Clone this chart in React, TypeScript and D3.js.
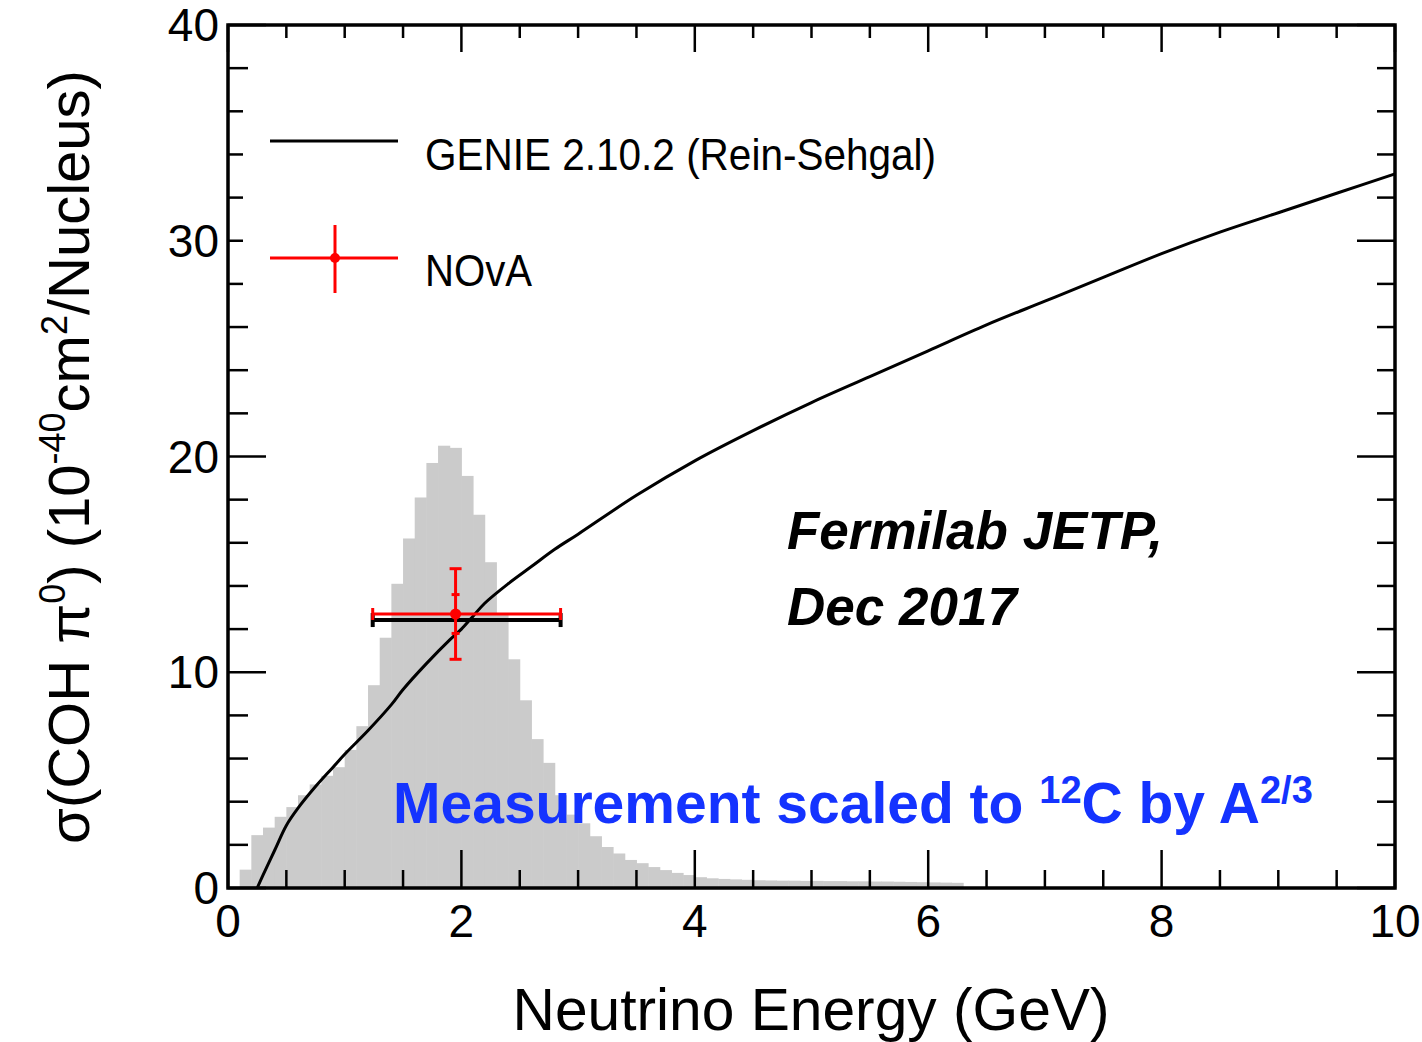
import React from "react";
import * as d3 from "d3";

// Flux-shape histogram (arbitrary units on the same axis), 0.1 GeV bins starting at 0.1 GeV
const fluxBinStart = 0.1;
const fluxBinWidth = 0.1;
const fluxBins = [
  0.85, 2.45, 2.8, 3.3, 3.75, 4.3, 4.8, 5.2, 5.6, 6.4,
  7.5, 9.4, 11.6, 14.1, 16.2, 18.1, 19.7, 20.5, 20.4, 19.1,
  17.3, 15.1, 12.7, 10.6, 8.7, 6.9, 5.8, 4.3, 3.4, 3.0,
  2.4, 1.9, 1.6, 1.3, 1.15, 0.97, 0.83, 0.7, 0.6, 0.5,
  0.45, 0.42, 0.4, 0.38, 0.36, 0.35, 0.34, 0.34, 0.33, 0.33,
  0.32, 0.32, 0.31, 0.31, 0.3, 0.3, 0.29, 0.28, 0.27, 0.26,
  0.25, 0.24,
];

// GENIE 2.10.2 (Rein-Sehgal) coherent pi0 cross section
const genieEnergy = [
  0.25, 0.3, 0.4, 0.5, 0.6, 0.75, 0.9, 1.0, 1.2, 1.4, 1.5, 1.7, 1.9, 2.0,
  2.1, 2.2, 2.4, 2.6, 2.8, 3.0, 3.5, 4.0, 4.5, 5.0, 5.5, 6.0, 6.5, 7.0,
  7.5, 8.0, 8.5, 9.0, 9.5, 10.0,
];
const genieXsec = [
  0, 0.6, 1.75, 2.9, 3.7, 4.7, 5.6, 6.2, 7.3, 8.5, 9.2, 10.4, 11.5, 12.0,
  12.6, 13.2, 14.1, 14.9, 15.7, 16.4, 18.2, 19.8, 21.2, 22.5, 23.7, 24.9, 26.1, 27.2,
  28.3, 29.4, 30.4, 31.3, 32.2, 33.1,
];

// NOvA measurement
const novaEnergy = 1.95;
const novaEnergyLow = 1.24;
const novaEnergyHigh = 2.85;
const novaXsec = 12.7;
const novaStatErr = 0.9;
const novaTotalErr = 2.1;
const genieFluxAvg = 12.42;

const xTicksMajor = [0, 2, 4, 6, 8, 10];
const yTicksMajor = [0, 10, 20, 30, 40];

const W = 1422;
const H = 1042;
const FONT = "'Liberation Sans', Arial, Helvetica, sans-serif";

export default function App() {
  const x = d3.scaleLinear().domain([0, 10]).range([228, 1395]);
  const y = d3.scaleLinear().domain([0, 40]).range([888, 25]);

  const xMinor = d3.range(0, 10.0001, 0.5).filter((v) => Math.abs(v % 2) > 1e-6);
  const yMinor = d3.range(0, 40.0001, 2).filter((v) => Math.abs(v % 10) > 1e-6);

  const line = d3
    .line<number>()
    .x((_, i) => x(genieEnergy[i]))
    .y((d) => y(d))
    .curve(d3.curveCatmullRom.alpha(0.5));

  const capH = 7;
  const [x0, x1] = x.range();
  const [y0, y1] = y.range();

  return (
    <svg
      width={W}
      height={H}
      style={{ position: "absolute", left: 0, top: 0, background: "#fff" }}
      fontFamily={FONT}
    >
      {/* flux histogram */}
      <g fill="#cbcbcb">
        {fluxBins.map((v, i) => {
          const e0 = fluxBinStart + i * fluxBinWidth;
          const e1 = e0 + fluxBinWidth;
          return (
            <rect
              key={i}
              x={x(e0)}
              y={y(v)}
              width={x(e1) - x(e0) + 0.5}
              height={y(0) - y(v)}
            />
          );
        })}
      </g>

      {/* ticks */}
      <g stroke="#000" strokeWidth={2.5}>
        {xMinor.map((v) => (
          <g key={"xm" + v}>
            <line x1={x(v)} x2={x(v)} y1={y0} y2={y0 - 18} />
            <line x1={x(v)} x2={x(v)} y1={y1} y2={y1 + 13} />
          </g>
        ))}
        {xTicksMajor.map((v) => (
          <g key={"xM" + v}>
            <line x1={x(v)} x2={x(v)} y1={y0} y2={y0 - 38} />
            <line x1={x(v)} x2={x(v)} y1={y1} y2={y1 + 27} />
          </g>
        ))}
        {yMinor.map((v) => (
          <g key={"ym" + v}>
            <line x1={x0} x2={x0 + 20} y1={y(v)} y2={y(v)} />
            <line x1={x1} x2={x1 - 18} y1={y(v)} y2={y(v)} />
          </g>
        ))}
        {yTicksMajor.map((v) => (
          <g key={"yM" + v}>
            <line x1={x0} x2={x0 + 38} y1={y(v)} y2={y(v)} />
            <line x1={x1} x2={x1 - 38} y1={y(v)} y2={y(v)} />
          </g>
        ))}
      </g>

      {/* legend box */}
      <rect x={243} y={88} width={720} height={222} fill="#fff" />

      {/* frame */}
      <rect
        x={x0}
        y={y1}
        width={x1 - x0}
        height={y0 - y1}
        fill="none"
        stroke="#000"
        strokeWidth={3.5}
      />

      {/* GENIE curve */}
      <path d={line(genieXsec) ?? ""} fill="none" stroke="#000" strokeWidth={3} />

      {/* flux-averaged GENIE prediction */}
      <g stroke="#000" strokeWidth={4}>
        <line x1={x(novaEnergyLow)} x2={x(novaEnergyHigh)} y1={y(genieFluxAvg)} y2={y(genieFluxAvg)} />
        <line x1={x(novaEnergyLow)} x2={x(novaEnergyLow)} y1={y(genieFluxAvg) - capH} y2={y(genieFluxAvg) + capH} />
        <line x1={x(novaEnergyHigh)} x2={x(novaEnergyHigh)} y1={y(genieFluxAvg) - capH} y2={y(genieFluxAvg) + capH} />
      </g>

      {/* NOvA point */}
      <g stroke="#ff0000" strokeWidth={3}>
        <line x1={x(novaEnergyLow)} x2={x(novaEnergyHigh)} y1={y(novaXsec)} y2={y(novaXsec)} />
        <line x1={x(novaEnergyLow)} x2={x(novaEnergyLow)} y1={y(novaXsec) - 6} y2={y(novaXsec) + 6} />
        <line x1={x(novaEnergyHigh)} x2={x(novaEnergyHigh)} y1={y(novaXsec) - 6} y2={y(novaXsec) + 6} />
        <line x1={x(novaEnergy)} x2={x(novaEnergy)} y1={y(novaXsec - novaTotalErr)} y2={y(novaXsec + novaTotalErr)} />
        {[novaXsec - novaTotalErr, novaXsec + novaTotalErr].map((v) => (
          <line key={"t" + v} x1={x(novaEnergy) - 6} x2={x(novaEnergy) + 6} y1={y(v)} y2={y(v)} />
        ))}
        {[novaXsec - novaStatErr, novaXsec + novaStatErr].map((v) => (
          <line key={"s" + v} x1={x(novaEnergy) - 4} x2={x(novaEnergy) + 4} y1={y(v)} y2={y(v)} />
        ))}
      </g>
      <circle cx={x(novaEnergy)} cy={y(novaXsec)} r={5.5} fill="#ff0000" />

      {/* tick labels */}
      <g fontSize={46} fill="#000">
        {xTicksMajor.map((v) => (
          <text key={"xl" + v} x={x(v)} y={937} textAnchor="middle">
            {v}
          </text>
        ))}
        {yTicksMajor.map((v) => (
          <text key={"yl" + v} x={219} y={y(v) + 16} textAnchor="end">
            {v}
          </text>
        ))}
      </g>

      {/* axis titles */}
      <text x={811} y={1030} fontSize={60} textAnchor="middle" textLength={597} lengthAdjust="spacingAndGlyphs">
        Neutrino Energy (GeV)
      </text>
      <text transform="translate(89,457) rotate(-90)" fontSize={58} textAnchor="middle">
        σ(COH π
        <tspan dy={-24} fontSize={36}>0</tspan>
        <tspan dy={24}>) (10</tspan>
        <tspan dy={-24} fontSize={36}>-40</tspan>
        <tspan dy={24}>cm</tspan>
        <tspan dy={-22} fontSize={36}>2</tspan>
        <tspan dy={22}>/Nucleus)</tspan>
      </text>

      {/* legend */}
      <line x1={270} x2={398} y1={141} y2={141} stroke="#000" strokeWidth={3} />
      <text x={425} y={170} fontSize={44} textLength={511} lengthAdjust="spacingAndGlyphs">
        GENIE 2.10.2 (Rein-Sehgal)
      </text>
      <g stroke="#ff0000" strokeWidth={3}>
        <line x1={270} x2={398} y1={258} y2={258} />
        <line x1={335} x2={335} y1={225} y2={293} />
      </g>
      <circle cx={335} cy={258} r={5} fill="#ff0000" />
      <text x={425} y={286} fontSize={44} textLength={107} lengthAdjust="spacingAndGlyphs">
        NOvA
      </text>

      {/* annotations */}
      <text x={787} y={549} fontSize={53} fontWeight="bold" fontStyle="italic">
        Fermilab JETP,
      </text>
      <text x={787} y={625} fontSize={53} fontWeight="bold" fontStyle="italic">
        Dec 2017
      </text>
      <text x={393} y={823} fontSize={57} fontWeight="bold" fill="#1433ff">
        Measurement scaled to{" "}
        <tspan dy={-20} fontSize={38}>12</tspan>
        <tspan dy={20}>C by A</tspan>
        <tspan dy={-20} fontSize={38}>2/3</tspan>
      </text>
    </svg>
  );
}
